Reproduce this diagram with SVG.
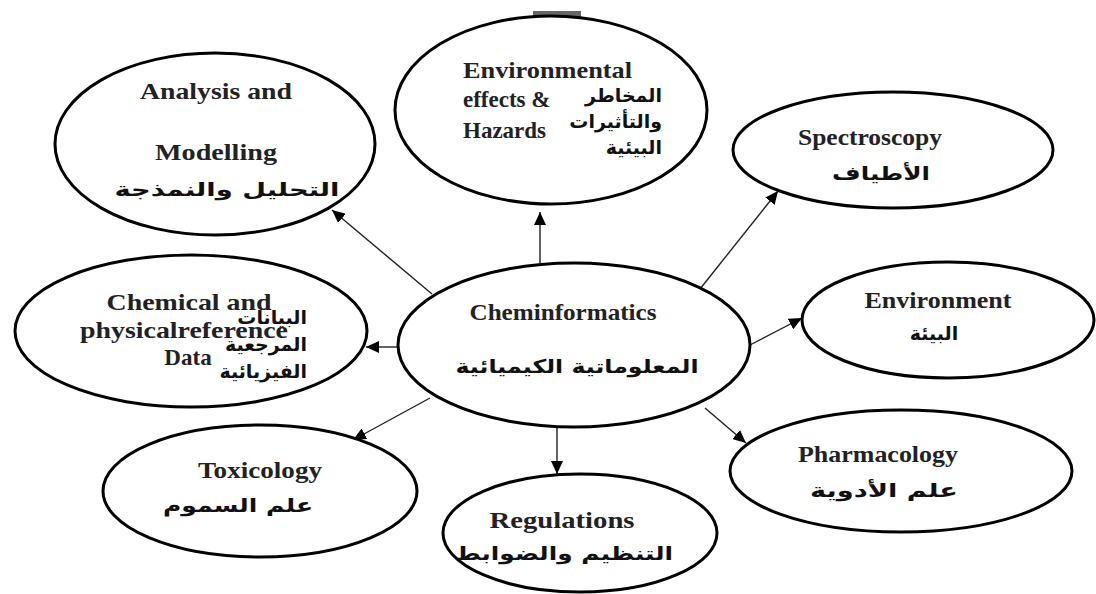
<svg xmlns="http://www.w3.org/2000/svg" width="1096" height="594" viewBox="0 0 1096 594">
<defs>
<style>
.node{fill:#fff;stroke:#000;stroke-width:3}
.en{font-family:"Liberation Serif","Times New Roman",serif;font-weight:bold;font-size:23px;fill:#222}
.ar{font-family:"DejaVu Sans","Noto Sans",sans-serif;font-weight:bold;font-size:19px;fill:#111}
.c{text-anchor:middle}
.e{text-anchor:end}
.s{text-anchor:start}
.con{stroke:#222;stroke-width:1.4;fill:none;marker-end:url(#ah)}
</style>
<marker id="ah" markerUnits="userSpaceOnUse" markerWidth="14" markerHeight="12" refX="13" refY="6" orient="auto">
<path d="M0,0 L13,6 L0,12 z" fill="#000"/>
</marker>
</defs>
<rect width="1096" height="594" fill="#fff"/>
<rect x="533" y="11" width="48" height="6" fill="#666"/>
<g id="connectors">
<line class="con" x1="432" y1="294" x2="332" y2="210"/>
<line class="con" x1="540" y1="263" x2="540" y2="212"/>
<line class="con" x1="700" y1="289" x2="778" y2="191"/>
<line class="con" x1="398" y1="347" x2="366" y2="347"/>
<line class="con" x1="750" y1="345" x2="802" y2="318"/>
<line class="con" x1="430" y1="398" x2="353" y2="440"/>
<line class="con" x1="557" y1="427" x2="557" y2="474"/>
<line class="con" x1="705" y1="408" x2="746" y2="443"/>
</g>
<g id="analysis">
<ellipse class="node" cx="215" cy="144" rx="160" ry="91"/>
<text class="en c" x="216" y="99" textLength="152" lengthAdjust="spacingAndGlyphs">Analysis and</text>
<text class="en c" x="216" y="160" textLength="122" lengthAdjust="spacingAndGlyphs">Modelling</text>
<text class="ar c" x="227" y="196" textLength="225" lengthAdjust="spacingAndGlyphs">التحليل والنمذجة</text>
</g>
<g id="environmental">
<ellipse class="node" cx="551" cy="110" rx="156" ry="94"/>
<text class="en s" x="463" y="78" font-size="20" textLength="169" lengthAdjust="spacingAndGlyphs">Environmental</text>
<text class="en s" x="463" y="107" font-size="20">effects &amp;</text>
<text class="en s" x="463" y="138" font-size="20">Hazards</text>
<text class="ar e" x="662" y="102">المخاطر</text>
<text class="ar e" x="662" y="128">والتأثيرات</text>
<text class="ar e" x="662" y="154">البيئية</text>
</g>
<g id="spectroscopy">
<ellipse class="node" cx="893" cy="150" rx="160" ry="58"/>
<text class="en c" x="870" y="145" textLength="144" lengthAdjust="spacingAndGlyphs">Spectroscopy</text>
<text class="ar c" x="881" y="180" textLength="98" lengthAdjust="spacingAndGlyphs">الأطياف</text>
</g>
<g id="chemical">
<ellipse class="node" cx="191" cy="331" rx="176" ry="76"/>
<text class="en c" x="189" y="310" textLength="165" lengthAdjust="spacingAndGlyphs">Chemical and</text>
<text class="en c" x="184" y="338" textLength="208" lengthAdjust="spacingAndGlyphs">physicalreference</text>
<text class="en c" x="188" y="365">Data</text>
<text class="ar e" x="307" y="324">البيانات</text>
<text class="ar e" x="307" y="351">المرجعية</text>
<text class="ar e" x="307" y="378">الفيزيائية</text>
</g>
<g id="cheminformatics">
<ellipse class="node" cx="574" cy="345" rx="176" ry="82"/>
<text class="en c" x="563" y="320" textLength="187" lengthAdjust="spacingAndGlyphs">Cheminformatics</text>
<text class="ar c" x="577" y="373" textLength="243" lengthAdjust="spacingAndGlyphs">المعلوماتية الكيميائية</text>
</g>
<g id="environment">
<ellipse class="node" cx="948" cy="320" rx="146" ry="58"/>
<text class="en c" x="938" y="308" textLength="147" lengthAdjust="spacingAndGlyphs">Environment</text>
<text class="ar c" x="934" y="340">البيئة</text>
</g>
<g id="toxicology">
<ellipse class="node" cx="260" cy="491" rx="157" ry="66"/>
<text class="en c" x="260" y="478" textLength="124" lengthAdjust="spacingAndGlyphs">Toxicology</text>
<text class="ar c" x="238" y="512" font-size="21" textLength="150" lengthAdjust="spacingAndGlyphs">علم السموم</text>
</g>
<g id="regulations">
<ellipse class="node" cx="580" cy="533" rx="137" ry="59"/>
<text class="en c" x="562" y="528" textLength="145" lengthAdjust="spacingAndGlyphs">Regulations</text>
<text class="ar c" x="564" y="560" font-size="21" textLength="218" lengthAdjust="spacingAndGlyphs">التنظيم والضوابط</text>
</g>
<g id="pharmacology">
<ellipse class="node" cx="901" cy="471" rx="171" ry="61"/>
<text class="en c" x="878" y="462" textLength="160" lengthAdjust="spacingAndGlyphs">Pharmacology</text>
<text class="ar c" x="884" y="497" font-size="21" textLength="148" lengthAdjust="spacingAndGlyphs">علم الأدوية</text>
</g>
</svg>
